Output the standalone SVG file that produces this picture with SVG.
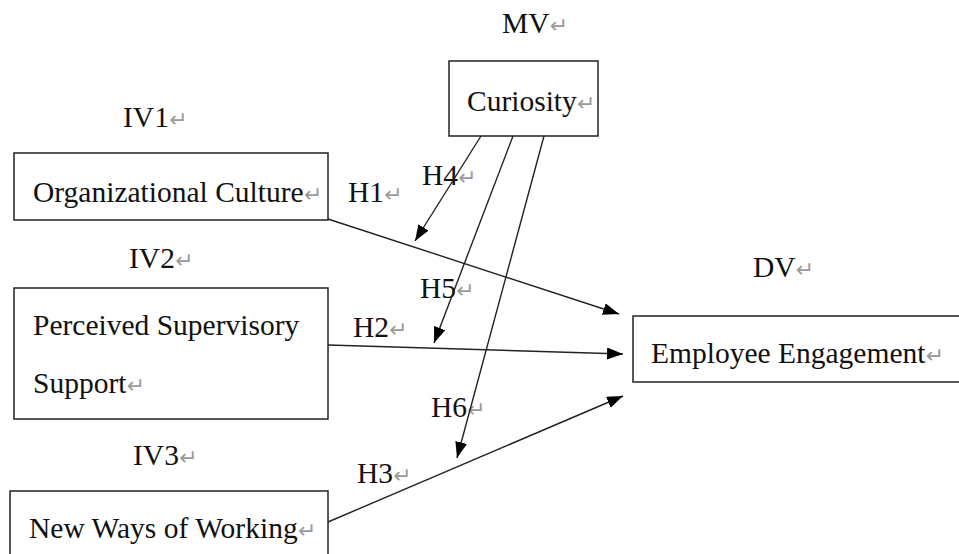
<svg xmlns="http://www.w3.org/2000/svg" width="959" height="554" viewBox="0 0 959 554">
<style>
text{font-family:"Liberation Serif","Times New Roman",serif;font-size:29.5px;fill:#111}
.pm{fill:#9a9a9a;font-family:"DejaVu Sans",sans-serif;font-size:22px}
.box{fill:#fff;stroke:#222;stroke-width:1.5}
.conn line{stroke:#222;stroke-width:1.4;marker-end:url(#ah)}
</style>
<defs>
<marker id="ah" viewBox="0 0 16 12" refX="16" refY="6" markerUnits="userSpaceOnUse" markerWidth="16" markerHeight="12" orient="auto">
<path d="M0,0 L16,6 L0,12 z" fill="#000"/>
</marker>
</defs>
<rect width="959" height="554" fill="#fff"/>
<g id="labels">
<text x="502" y="33">MV<tspan class="pm">↵</tspan></text>
<text x="123" y="127">IV1<tspan class="pm">↵</tspan></text>
<text x="129" y="268">IV2<tspan class="pm">↵</tspan></text>
<text x="133" y="465">IV3<tspan class="pm">↵</tspan></text>
<text x="753" y="277">DV<tspan class="pm">↵</tspan></text>
<text x="348" y="202">H1<tspan class="pm">↵</tspan></text>
<text x="353" y="337">H2<tspan class="pm">↵</tspan></text>
<text x="357" y="483">H3<tspan class="pm">↵</tspan></text>
<text x="422" y="185">H4<tspan class="pm">↵</tspan></text>
<text x="420" y="298">H5<tspan class="pm">↵</tspan></text>
<text x="431" y="417">H6<tspan class="pm">↵</tspan></text>
</g>
<g id="node-curiosity">
<rect class="box" x="449" y="61" width="149" height="75"/>
<text x="467" y="111">Curiosity<tspan class="pm">↵</tspan></text>
</g>
<g id="node-org-culture">
<rect class="box" x="14" y="153" width="314" height="67"/>
<text x="33" y="202">Organizational Culture<tspan class="pm">↵</tspan></text>
</g>
<g id="node-pss">
<rect class="box" x="14" y="288" width="314" height="131"/>
<text x="33" y="335">Perceived Supervisory</text>
<text x="33" y="393">Support<tspan class="pm">↵</tspan></text>
</g>
<g id="node-nww">
<rect class="box" x="10" y="491" width="318" height="80"/>
<text x="29" y="538">New Ways of Working<tspan class="pm">↵</tspan></text>
</g>
<g id="node-ee">
<rect class="box" x="633" y="316" width="340" height="66"/>
<text x="651" y="363">Employee Engagement<tspan class="pm">↵</tspan></text>
</g>
<g id="connectors" class="conn">
<line x1="328" y1="219" x2="619" y2="314"/>
<line x1="328" y1="345" x2="623" y2="354"/>
<line x1="328" y1="522" x2="623" y2="396"/>
<line x1="481" y1="136" x2="415" y2="241"/>
<line x1="513" y1="136" x2="434" y2="343"/>
<line x1="544" y1="136" x2="457" y2="458"/>
</g>
</svg>
